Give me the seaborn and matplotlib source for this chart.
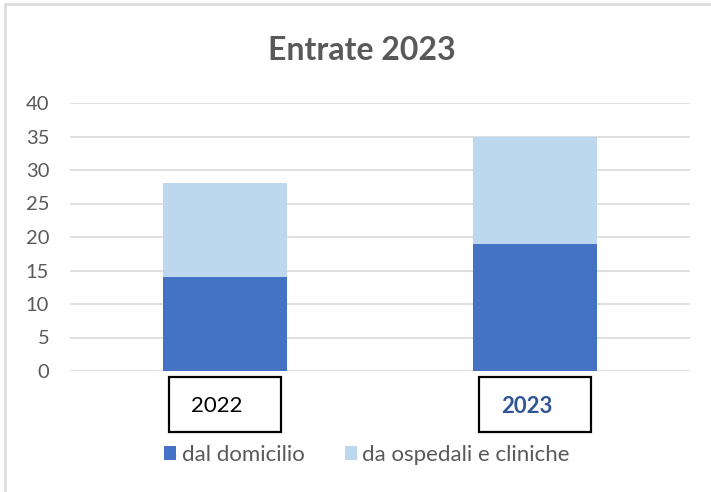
import matplotlib
matplotlib.use("Agg")
import matplotlib.pyplot as plt
import matplotlib.transforms as mtransforms
from matplotlib.patches import Rectangle, Patch
from matplotlib.lines import Line2D
import seaborn as sns
import pandas as pd

years = ["2022", "2023"]
dal_domicilio = [14, 19]
da_ospedali = [14, 16]
title = "Entrate 2023"
series_names = ["dal domicilio", "da ospedali e cliniche"]

DARK = "#4472C4"
LIGHT = "#BDD7EE"
GREY_TXT = "#595959"
GRID = "#D9D9D9"

sns.set_theme(style="white")
plt.rcParams['font.family'] = ['Lato', 'DejaVu Sans']

totals = [a + b for a, b in zip(dal_domicilio, da_ospedali)]
df = pd.DataFrame({"year": years, "dom": dal_domicilio, "total": totals})

fig = plt.figure(figsize=(7.11, 4.92), dpi=100)
ax = fig.add_axes([70/711, 1-371/492, 620/711, 268/492])

sns.barplot(data=df, x="year", y="total", color=LIGHT, width=0.4, ax=ax,
            saturation=1, zorder=3, linewidth=0)
sns.barplot(data=df, x="year", y="dom", color=DARK, width=0.4, ax=ax,
            saturation=1, zorder=3, linewidth=0)

ax.set_xlim(-0.5, 1.5)
ax.set_ylim(0, 40)
ax.set_yticks(range(0, 41, 5))
ax.yaxis.grid(True, color=GRID, linewidth=1.2, zorder=0)
ax.set_axisbelow(True)
for s in ax.spines.values():
    s.set_visible(False)
ax.set_xlabel("")
ax.set_ylabel("")
ax.tick_params(axis="y", length=0, pad=15, labelsize=14.5, labelcolor=GREY_TXT)
ax.tick_params(axis="x", length=0, pad=18, labelsize=16)

labels = ax.get_xticklabels()
labels[0].set_color("black")
labels[1].set_color("#2F5597")
labels[1].set_fontweight("bold")
offset = mtransforms.ScaledTranslation(-8/100, 0, fig.dpi_scale_trans)
for lab in ax.get_xticklabels():
    lab.set_transform(lab.get_transform() + offset)

trans = mtransforms.blended_transform_factory(ax.transData, ax.transAxes)
boxw = 112/310
for i in range(len(years)):
    ax.add_patch(Rectangle((i - boxw/2, -0.2276), boxw, 0.2052,
                           transform=trans, fill=False, edgecolor="black",
                           linewidth=1.6, clip_on=False))

fig.suptitle(title, x=362/711, y=1-50/492, va="center", fontsize=23,
             fontweight="bold", color=GREY_TXT)

handles = [Patch(facecolor=DARK, edgecolor="none"),
           Patch(facecolor=LIGHT, edgecolor="none")]
fig.legend(handles, series_names, loc="center", bbox_to_anchor=(367/711, 1-455/492),
           ncol=2, frameon=False, fontsize=16, labelcolor=GREY_TXT,
           handlelength=0.55, handleheight=0.55, handletextpad=0.25,
           columnspacing=1.8)

fig.add_artist(Line2D([5/711, 1], [1-4/492, 1-4/492], color=GRID, linewidth=1.8,
                      transform=fig.transFigure))
fig.add_artist(Line2D([5/711, 5/711], [0, 1-4/492], color=GRID, linewidth=1.8,
                      transform=fig.transFigure))

fig.savefig("out.png", dpi=100)
